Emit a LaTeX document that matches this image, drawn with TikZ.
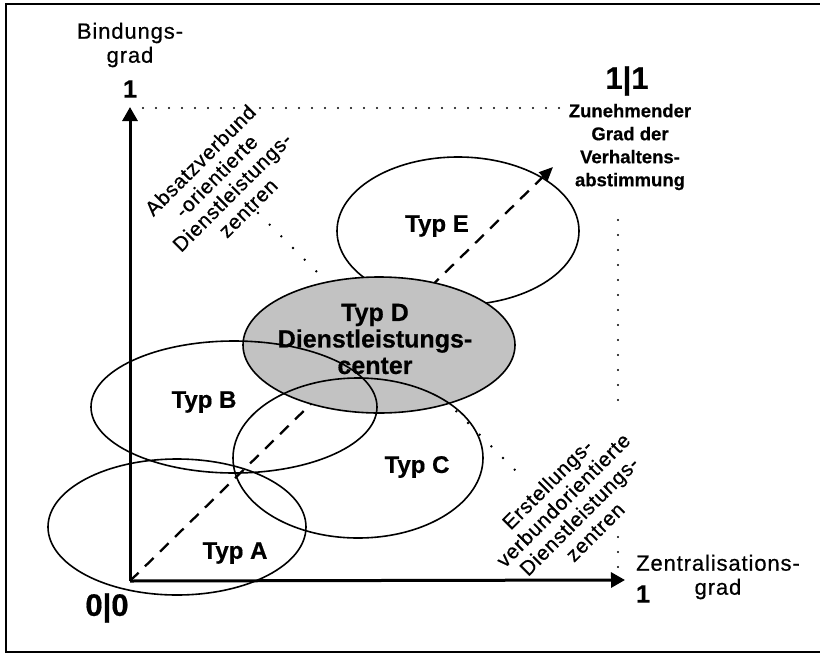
\documentclass[tikz,border=0pt]{standalone}
\usepackage{fontspec}
\setmainfont{Liberation Sans}[UprightFeatures={FakeBold=0.6},BoldFeatures={FakeBold=0.5}]
\usetikzlibrary{arrows.meta}
\begin{document}
\begin{tikzpicture}[x=1pt,y=-1pt,
  frame/.style={line width=1.8pt},
  axis/.style={line width=3pt,-{Triangle[width=15pt,length=14pt]}},
  diag/.style={line width=2.3pt,dash pattern=on 12pt off 9pt,-{Triangle[width=12pt,length=14pt]}},
  dotline/.style={line width=2.6pt,line cap=round,dash pattern=on 0pt off 16.5pt},
  hdots/.style={line width=2.2pt,line cap=round,dash pattern=on 0pt off 13pt},
  vdots/.style={line width=2.2pt,line cap=round,dash pattern=on 0pt off 15pt},
  ell/.style={line width=1.6pt},
  lbl/.style={font=\fontsize{22}{24}\selectfont\addfontfeature{LetterSpace=4},align=center,inner sep=0pt},
  rlbl/.style={font=\fontsize{20.5}{22.5}\selectfont\addfontfeature{LetterSpace=4},align=center,inner sep=0pt,rotate=45},
  typ/.style={font=\bfseries\fontsize{24}{26.5}\selectfont,align=center,inner sep=0pt},
  num/.style={font=\bfseries\fontsize{25}{26}\selectfont,inner sep=0pt},
  bignum/.style={font=\bfseries\fontsize{31}{32}\selectfont,inner sep=0pt}]
\useasboundingbox (0,0) rectangle (820,654);
% frame
\coordinate (ftl) at (6,4);
\coordinate (ftr) at (820,4);
\coordinate (fbl) at (6,652);
\coordinate (fbr) at (820,652);
\draw[frame] (ftr) -- (ftl) -- (fbl) -- (fbr);
% key points
\coordinate (O) at (130,581);
\coordinate (Ytip) at (130,107);
\coordinate (Xtip) at (625,580);
\coordinate (Dtip) at (553,167);
\coordinate (p1) at (258,213);
\coordinate (p2) at (522,477);
\coordinate (h1) at (143,108);
\coordinate (h2) at (562,108);
\coordinate (v1) at (618,220);
\coordinate (v2) at (618,412);
\coordinate (v3) at (618,537);
\coordinate (v4) at (618,573);
% diagonal dashed arrow and dotted line (under D)
\draw[diag] (O) -- (Dtip);
\draw[dotline] (p1) -- (p2);
% ellipses
\draw[ell] (458,231) ellipse [x radius=121, y radius=74];
\draw[ell,fill=black!24] (379,345) ellipse [x radius=136, y radius=68];
\draw[ell] (177,527) ellipse [x radius=129, y radius=68];
\draw[ell] (234,407) ellipse [x radius=143, y radius=66];
\draw[ell] (358,458) ellipse [x radius=125, y radius=80];
% axes
\draw[axis] (O) -- (Ytip);
\draw[axis] (O) -- (Xtip);
% dotted guide lines
\draw[hdots] (h1) -- (h2);
\draw[vdots] (v1) -- (v2);
\draw[vdots] (v3) -- (v4);
% labels
\node[typ] (tA) at (235,553) {Typ A};
\node[typ] (tB) at (204,402) {Typ B};
\node[typ] (tC) at (417,467) {Typ C};
\node[typ] (tE) at (437,226) {Typ E};
\node[typ,font=\bfseries\fontsize{25}{26.5}\selectfont] (tD) at (375,339) {Typ D\\Dienstleistungs-\\center};
\node[lbl] (ylab) at (130,45) {Bindungs-\\grad};
\node[num] (y1) at (130,89) {1};
\node[bignum] (n11) at (627,81) {1|1};
\node[font=\bfseries\fontsize{18.5}{23}\selectfont,align=center,inner sep=0pt] (zun) at (630,147) {Zunehmender\\Grad der\\Verhaltens-\\abstimmung};
\node[lbl] (xlab) at (718,577) {Zentralisations-\\grad};
\node[num] (x1) at (643,594) {1};
\node[bignum] (n00) at (107,608) {0|0};
\node[rlbl] (abs) at (224,184) {Absatzverbund\\-orientierte\\Dienstleistungs-\\zentren};
\node[rlbl] (ers) at (571,508) {Erstellungs-\\verbundorientierte\\Dienstleistungs-\\zentren};
\end{tikzpicture}
\end{document}
